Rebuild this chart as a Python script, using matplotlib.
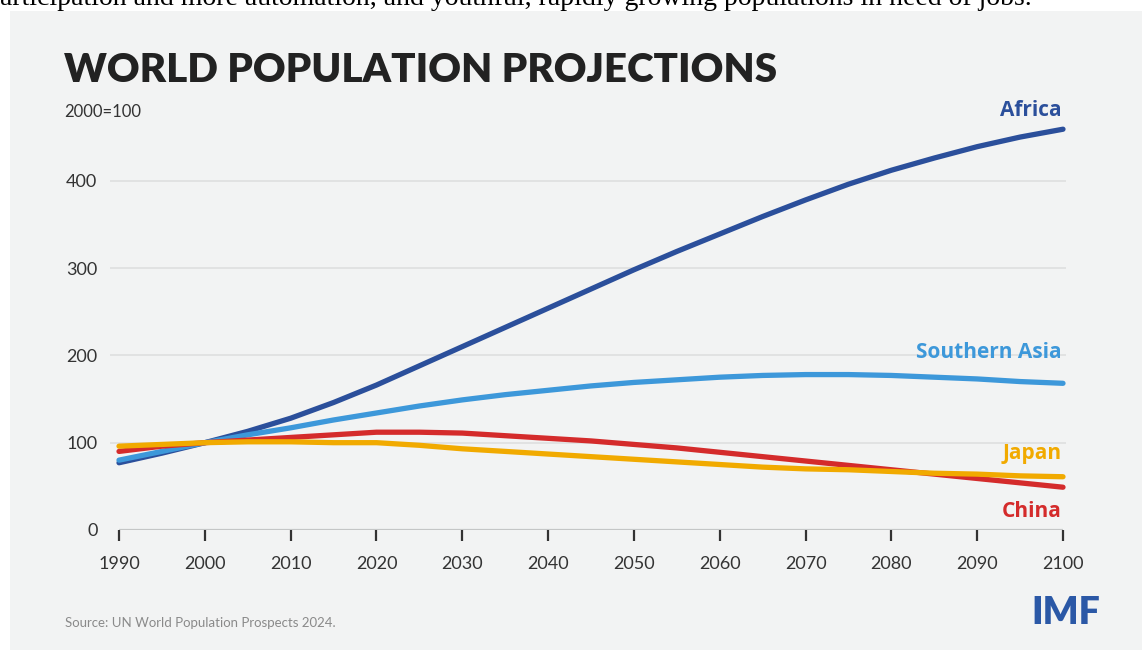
import matplotlib
matplotlib.use("Agg")
import matplotlib.pyplot as plt
from matplotlib.patches import Rectangle

plt.rcParams['font.family'] = ['Lato', 'DejaVu Sans']

years = [1990, 1995, 2000, 2005, 2010, 2015, 2020, 2025, 2030, 2035, 2040, 2045,
         2050, 2055, 2060, 2065, 2070, 2075, 2080, 2085, 2090, 2095, 2100]
africa = [77, 88, 100, 113, 128, 146, 166, 188, 210, 232, 254, 276,
          298, 319, 339, 359, 378, 396, 412, 426, 439, 450, 459]
southern_asia = [80, 90, 100, 109, 117, 126, 134, 142, 149, 155, 160, 165,
                 169, 172, 175, 177, 178, 178, 177, 175, 173, 170, 168]
china = [90, 96, 100, 103, 106, 109, 112, 112, 111, 108, 105, 102,
         98, 94, 89, 84, 79, 74, 69, 64, 59, 54, 49]
japan = [96, 98, 100, 101, 101, 100, 100, 97, 93, 90, 87, 84,
         81, 78, 75, 72, 70, 69, 67, 65, 64, 62, 61]

series = [("Africa", africa, "#2b4f9b"),
          ("Southern Asia", southern_asia, "#3d98da"),
          ("China", china, "#d42b2b"),
          ("Japan", japan, "#f1aa00")]
label_y = {"Africa": 480, "Southern Asia": 203, "Japan": 88, "China": 21}

xticks = list(range(1990, 2101, 10))
yticks = [0, 100, 200, 300, 400]

W, H = 1142, 653
fig = plt.figure(figsize=(W / 100, H / 100), dpi=100)
fig.patch.set_facecolor("white")
panel = Rectangle((10 / W, 3 / H), 1, (642 - 3) / H, transform=fig.transFigure,
                  facecolor="#f2f3f3", edgecolor="none", zorder=-5)
fig.add_artist(panel)

# cropped line of body text above the graphic
fig.text(0 / W, 1 - 5 / H, "articipation and more automation, and youthful, rapidly growing populations in need of jobs.",
         family="Liberation Serif", fontsize=20, color="black", va="baseline", ha="left")

ax = fig.add_axes([110 / W, (H - 530) / H, (1066 - 110) / W, 420 / H])
ax.set_zorder(2)
ax.set_facecolor("none")
ax.set_xlim(1988.95, 2100.35)
ax.set_ylim(0, 481)

for s in ax.spines.values():
    s.set_visible(False)

for v in yticks[1:]:
    ax.axhline(v, color="#dddede", lw=1.1, zorder=1)
ax.hlines(0, 1990, 2100, color="#c4c6c6", lw=1.6, zorder=1)

for name, vals, col in series:
    ax.plot(years, vals, color=col, lw=3.8, solid_capstyle="round", zorder=3)
    ax.text(2099.8, label_y[name], name, color=col, fontsize=15, fontweight="bold",
            family=["Open Sans", "DejaVu Sans"], ha="right", va="center")

ax.set_xticks(xticks)
ax.set_xticklabels([str(x) for x in xticks])
ax.set_yticks(yticks)
ax.set_yticklabels([str(v) for v in yticks])
ax.tick_params(axis="x", length=8, width=1.6, color="#333333", pad=11,
               labelsize=13, labelcolor="#333333")
ax.tick_params(axis="y", length=0, pad=9, labelsize=13, labelcolor="#333333")

fig.text(64 / W, 1 - 70 / H, "WORLD POPULATION PROJECTIONS", fontsize=29, fontweight="heavy",
         color="#222222", va="center", ha="left")
fig.text(64 / W, 1 - 112 / H, "2000=100", fontsize=12, color="#333333", va="center", ha="left")
fig.text(65 / W, 1 - 623 / H, "Source: UN World Population Prospects 2024.", fontsize=9.5,
         color="#8a8a8a", va="center", ha="left")
fig.text(1100 / W, 1 - 613 / H, "IMF", fontsize=27, fontweight="heavy", color="#2b58a6",
         va="center", ha="right")

fig.savefig("out.png", dpi=100)
